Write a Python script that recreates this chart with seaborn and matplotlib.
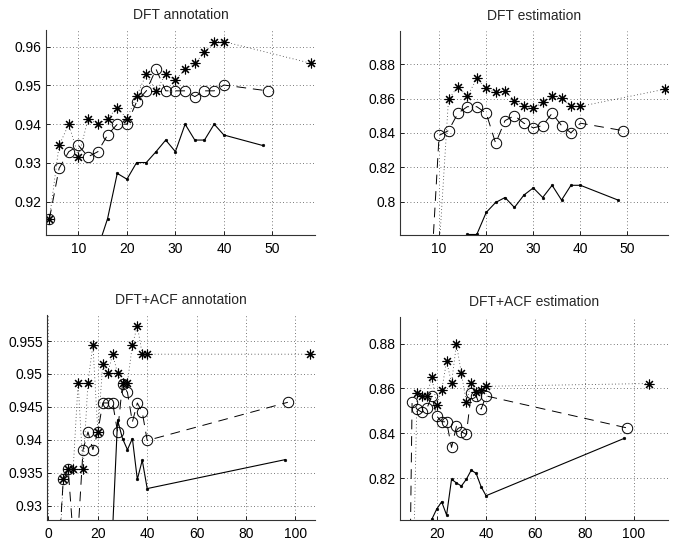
import matplotlib
matplotlib.use("Agg")
import matplotlib.pyplot as plt
import seaborn as sns
import numpy as np

# ---------------- data ----------------
titles = ["DFT annotation", "DFT estimation", "DFT+ACF annotation", "DFT+ACF estimation"]

# Panel 1: DFT annotation
x_star1 = [4, 6, 8, 10, 12, 14, 16, 18, 20, 22, 24, 26, 28, 30, 32, 34, 36, 38, 40, 58]
y_star1 = [0.9155, 0.9345, 0.9400, 0.9316, 0.9414, 0.9400, 0.9414, 0.9443, 0.9414, 0.9473,
           0.9529, 0.9486, 0.9529, 0.9514, 0.9542, 0.9557, 0.9585, 0.9613, 0.9613, 0.9557]
x_circ1 = [4, 6, 8, 10, 12, 14, 16, 18, 20, 22, 24, 26, 28, 30, 32, 34, 36, 38, 40, 49]
y_circ1 = [0.9155, 0.9286, 0.9329, 0.9345, 0.9316, 0.9329, 0.9372, 0.9400, 0.9400, 0.9458,
           0.9486, 0.9542, 0.9486, 0.9486, 0.9486, 0.9471, 0.9486, 0.9486, 0.9501, 0.9486]
x_dot1 = [14, 16, 18, 20, 22, 24, 26, 28, 30, 32, 34, 36, 38, 40, 48]
y_dot1 = [0.9080, 0.9156, 0.9273, 0.9258, 0.9301, 0.9301, 0.9329, 0.9359, 0.9329, 0.9400,
          0.9359, 0.9359, 0.9400, 0.9372, 0.9345]

# Panel 2: DFT estimation
x_star2 = [10, 12, 14, 16, 18, 20, 22, 24, 26, 28, 30, 32, 34, 36, 38, 40, 58]
y_star2 = [0.772, 0.8598, 0.8669, 0.8613, 0.8717, 0.8659, 0.8636, 0.8646, 0.8588, 0.8559,
           0.8546, 0.8578, 0.8617, 0.8603, 0.8555, 0.8555, 0.8655]
x_circ2 = [8, 10, 12, 14, 16, 18, 20, 22, 24, 26, 28, 30, 32, 34, 36, 38, 40, 49]
y_circ2 = [0.743, 0.8386, 0.8414, 0.8515, 0.8553, 0.8553, 0.8515, 0.8341, 0.8472, 0.8501,
           0.8457, 0.8430, 0.8443, 0.8515, 0.8443, 0.8401, 0.8457, 0.8414]
x_dot2 = [16, 18, 20, 22, 24, 26, 28, 30, 32, 34, 36, 38, 40, 48]
y_dot2 = [0.781, 0.781, 0.7938, 0.7996, 0.8025, 0.7967, 0.8039, 0.8081, 0.8025, 0.8096,
          0.8010, 0.8096, 0.8096, 0.8010]

# Panel 3: DFT+ACF annotation
x_star3 = [4, 6, 8, 10, 12, 14, 16, 18, 20, 22, 24, 26, 28, 30, 32, 34, 36, 38, 40, 106]
y_star3 = [0.9200, 0.9340, 0.9355, 0.9355, 0.9487, 0.9355, 0.9487, 0.9544, 0.9412, 0.9515,
           0.9501, 0.9530, 0.9501, 0.9487, 0.9487, 0.9544, 0.9573, 0.9530, 0.9530, 0.9530]
x_circ3 = [4, 6, 8, 10, 12, 14, 16, 18, 20, 22, 24, 26, 28, 30, 32, 34, 36, 38, 40, 97]
y_circ3 = [0.9217, 0.9340, 0.9355, 0.9253, 0.9260, 0.9385, 0.9412, 0.9385, 0.9412, 0.9456,
           0.9456, 0.9456, 0.9412, 0.9485, 0.9472, 0.9427, 0.9456, 0.9442, 0.9399, 0.9457]
x_dot3 = [26, 28, 30, 32, 34, 36, 38, 40, 96]
y_dot3 = [0.9265, 0.9430, 0.9402, 0.9385, 0.9402, 0.9340, 0.9369, 0.9326, 0.9370]

# Panel 4: DFT+ACF estimation
x_star4 = [10, 12, 14, 16, 18, 20, 22, 24, 26, 28, 30, 32, 34, 36, 38, 40, 106]
y_star4 = [0.750, 0.8580, 0.8567, 0.8567, 0.8652, 0.8526, 0.8592, 0.8721, 0.8625, 0.8797,
           0.8667, 0.8540, 0.8625, 0.8585, 0.8592, 0.8610, 0.8622]
x_circ4 = [8, 10, 12, 14, 16, 18, 20, 22, 24, 26, 28, 30, 32, 34, 36, 38, 40, 97]
y_circ4 = [0.680, 0.8538, 0.8508, 0.8494, 0.8511, 0.8567, 0.8477, 0.8452, 0.8452, 0.8338,
           0.8432, 0.8407, 0.8396, 0.8578, 0.8567, 0.8508, 0.8567, 0.8425]
x_dot4 = [18, 20, 22, 24, 26, 28, 30, 32, 34, 36, 38, 40, 96]
y_dot4 = [0.8018, 0.8064, 0.8096, 0.8037, 0.8196, 0.8180, 0.8166, 0.8196, 0.8237, 0.8222,
          0.8163, 0.8123, 0.8378]

xticks = [[10, 20, 30, 40, 50], [10, 20, 30, 40, 50],
          [0, 20, 40, 60, 80, 100], [20, 40, 60, 80, 100]]
yticks = [[0.92, 0.93, 0.94, 0.95, 0.96], [0.80, 0.82, 0.84, 0.86, 0.88],
          [0.93, 0.935, 0.94, 0.945, 0.95, 0.955], [0.82, 0.84, 0.86, 0.88]]
ytick_labels = [["0.92", "0.93", "0.94", "0.95", "0.96"],
                ["0.8", "0.82", "0.84", "0.86", "0.88"],
                ["0.93", "0.935", "0.94", "0.945", "0.95", "0.955"],
                ["0.82", "0.84", "0.86", "0.88"]]

# ---------------- style ----------------
sns.set_style("white")
plt.rcParams["font.family"] = ["Liberation Sans", "DejaVu Sans"]
plt.rcParams["font.size"] = 10

fig = plt.figure(figsize=(6.78, 5.44), dpi=100)
W, H = 678.0, 544.0
boxes = [(46, 315, 30, 235), (400, 668, 31, 235), (47, 315, 315, 520), (400, 668, 317, 520)]
xlims = [(3.3, 58.8), (1.7, 58.6), (-0.6, 108), (5.1, 113.8)]
ylims = [(0.9114, 0.9643), (0.7807, 0.8993), (0.92783, 0.95895), (0.8015, 0.8918)]

series = [
    (x_star1, y_star1, x_circ1, y_circ1, x_dot1, y_dot1),
    (x_star2, y_star2, x_circ2, y_circ2, x_dot2, y_dot2),
    (x_star3, y_star3, x_circ3, y_circ3, x_dot3, y_dot3),
    (x_star4, y_star4, x_circ4, y_circ4, x_dot4, y_dot4),
]

asterisk = (8, 2, 0)

for i, (l, r, t, b) in enumerate(boxes):
    ax = fig.add_axes([l / W, 1 - b / H, (r - l) / W, (b - t) / H])
    xs, ys, xc, yc, xd, yd = series[i]
    sns.lineplot(x=xs, y=ys, ax=ax, color="0.2", linestyle=(0, (1, 3)), linewidth=0.6,
                 marker=asterisk, markersize=7, markeredgecolor="k",
                 markeredgewidth=0.8, errorbar=None, sort=False)
    sns.lineplot(x=xc, y=yc, ax=ax, color="k", linestyle=(0, (10, 7)), linewidth=0.7,
                 marker="o", markersize=7.5, markerfacecolor="none", markeredgecolor="k",
                 markeredgewidth=0.7, errorbar=None, sort=False)
    sns.lineplot(x=xd, y=yd, ax=ax, color="k", linestyle="-", linewidth=0.8,
                 marker="o", markersize=2, markeredgecolor="k", markerfacecolor="k",
                 markeredgewidth=0.3, errorbar=None, sort=False)
    ax.set_xlim(*xlims[i])
    ax.set_ylim(*ylims[i])
    ax.set_xticks(xticks[i])
    ax.set_xticklabels([str(v) for v in xticks[i]])
    ax.set_yticks(yticks[i])
    ax.set_yticklabels(ytick_labels[i])
    ax.grid(True, color="0.3", linestyle=(0, (1, 3)), linewidth=0.6)
    for s in ["top", "right"]:
        ax.spines[s].set_visible(False)
    for s in ["left", "bottom"]:
        ax.spines[s].set_color("0.2")
        ax.spines[s].set_linewidth(0.8)
    ax.tick_params(axis="y", direction="in", length=3, width=0.6, labelsize=10, pad=3,
                   left=True, colors="k")
    ax.tick_params(axis="x", direction="in", length=3, width=0.6, labelsize=10, pad=5,
                   bottom=True, colors="k")
    ax.set_title(titles[i], fontsize=10, pad=8)
    ax.set_xlabel("")
    ax.set_ylabel("")

fig.savefig("out.png", dpi=100)
